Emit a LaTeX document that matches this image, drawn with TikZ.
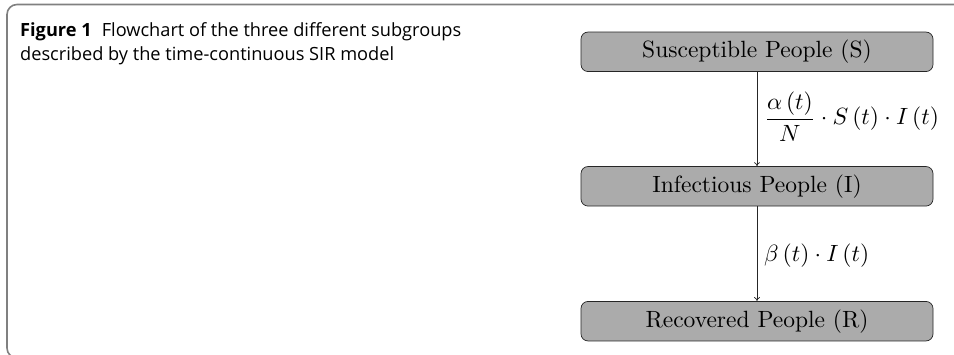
\documentclass[tikz,border=0pt]{standalone}
\usepackage{amsmath}
\usepackage{graphicx}
\usepackage{fontspec}
\usetikzlibrary{arrows.meta}
\newfontfamily\capfont{Open Sans}
\newcommand\sirtext[1]{\scalebox{2.35}{\fontsize{10}{12}\selectfont #1}}
\begin{document}
\begin{tikzpicture}[x=1pt,y=-1pt,
  frame/.style={draw=black!50,line width=1.6pt,rounded corners=10pt},
  stagebox/.style={draw=black!85,fill=black!33,rounded corners=7pt,minimum width=352pt,minimum height=39.5pt,line width=0.7pt,inner sep=0pt},
  flow/.style={draw=black!85,line width=0.7pt,-{To[length=4pt,width=6pt]}},
  lab/.style={anchor=base west,inner sep=0pt},
  captext/.style={anchor=base west,inner sep=0pt,font=\capfont\fontsize{18.2}{22}\selectfont}]
\useasboundingbox (0,0) rectangle (954,355);
\draw[frame] (970,4.5) -- (7,4.5) -- (7,358) -- (970,358);
\node[captext] (cap1) at (20,37) {\textbf{Figure 1}\hspace{0.55em}Flowchart of the three different subgroups};
\node[captext] (cap2) at (20,61) {described by the time-continuous SIR model};
\node[stagebox] (S) at (757,51.8) {\sirtext{Susceptible People (S)}};
\node[stagebox] (I) at (757,186.3) {\sirtext{Infectious People (I)}};
\node[stagebox] (R) at (757,321.2) {\sirtext{Recovered People (R)}};
\draw[flow] (S) -- (I);
\draw[flow] (I) -- (R);
\node[lab] (l1) at (764,125) {\sirtext{$\dfrac{\alpha\left(t\right)}{N}\cdot S\left(t\right)\cdot I\left(t\right)$}};
\node[lab] (l2) at (764,262) {\sirtext{$\beta\left(t\right)\cdot I\left(t\right)$}};
\end{tikzpicture}
\end{document}
